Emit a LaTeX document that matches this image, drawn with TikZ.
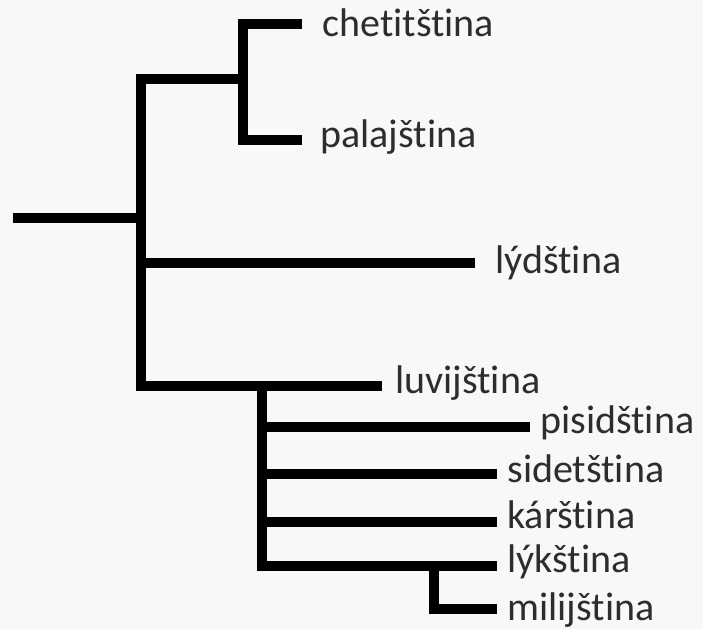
\documentclass[tikz,border=0pt]{standalone}
\usepackage{fontspec}
\setmainfont{Carlito}[Ligatures={NoCommon}]
\definecolor{bgc}{RGB}{248,248,248}
\definecolor{txt}{RGB}{45,45,45}
\begin{document}
\begin{tikzpicture}[x=0.5pt,y=-0.5pt,
  branch/.style={line width=5pt,line cap=butt,line join=miter,black},
  lab/.style={anchor=base west,inner sep=0pt,text=txt,font=\fontsize{20}{24}\selectfont}]
\fill[bgc] (0,0) rectangle (703,629);
\useasboundingbox (0,0) rectangle (703,629);
% labels
\node[lab] (het) at (322,36) {chetitština};
\node[lab] (pal) at (320,147) {palajština};
\node[lab] (lyd) at (495,273) {lýdština};
\node[lab] (luv) at (395,393) {luvijština};
\node[lab] (pis) at (540,433) {pisidština};
\node[lab] (sid) at (507,482) {sidetština};
\node[lab] (kar) at (507,528) {kárština};
\node[lab] (lyk) at (507,572) {lýkština};
\node[lab] (mil) at (507,620) {milijština};
% junction and end coordinates
\coordinate (root) at (13,218);
\coordinate (mainT) at (141,79);
\coordinate (mainR) at (141,218);
\coordinate (mainL) at (141,263);
\coordinate (mainB) at (141,386);
\coordinate (subM) at (243,79);
\coordinate (subT) at (243,24);
\coordinate (subB) at (243,140);
\coordinate (eHet) at (302,24);
\coordinate (ePal) at (302,140);
\coordinate (eLyd) at (475,263);
\coordinate (eLuv) at (382,386);
\coordinate (inT) at (262,386);
\coordinate (inP) at (262,427);
\coordinate (inS) at (262,474);
\coordinate (inK) at (262,522);
\coordinate (inB) at (262,566);
\coordinate (ePis) at (530,427);
\coordinate (eSid) at (497,474);
\coordinate (eKar) at (497,522);
\coordinate (eLyk) at (497,566);
\coordinate (smT) at (434,566);
\coordinate (smB) at (434,609);
\coordinate (eMil) at (497,609);
% branches
\draw[branch] (root) -- (mainR);
\draw[branch] (subM) -- (mainT) -- (mainB) -- (eLuv);
\draw[branch] (eHet) -- (subT) -- (subB) -- (ePal);
\draw[branch] (mainL) -- (eLyd);
\draw[branch] (inT) -- (inB) -- (eLyk);
\draw[branch] (inP) -- (ePis);
\draw[branch] (inS) -- (eSid);
\draw[branch] (inK) -- (eKar);
\draw[branch] (smT) -- (smB) -- (eMil);
\end{tikzpicture}
\end{document}
